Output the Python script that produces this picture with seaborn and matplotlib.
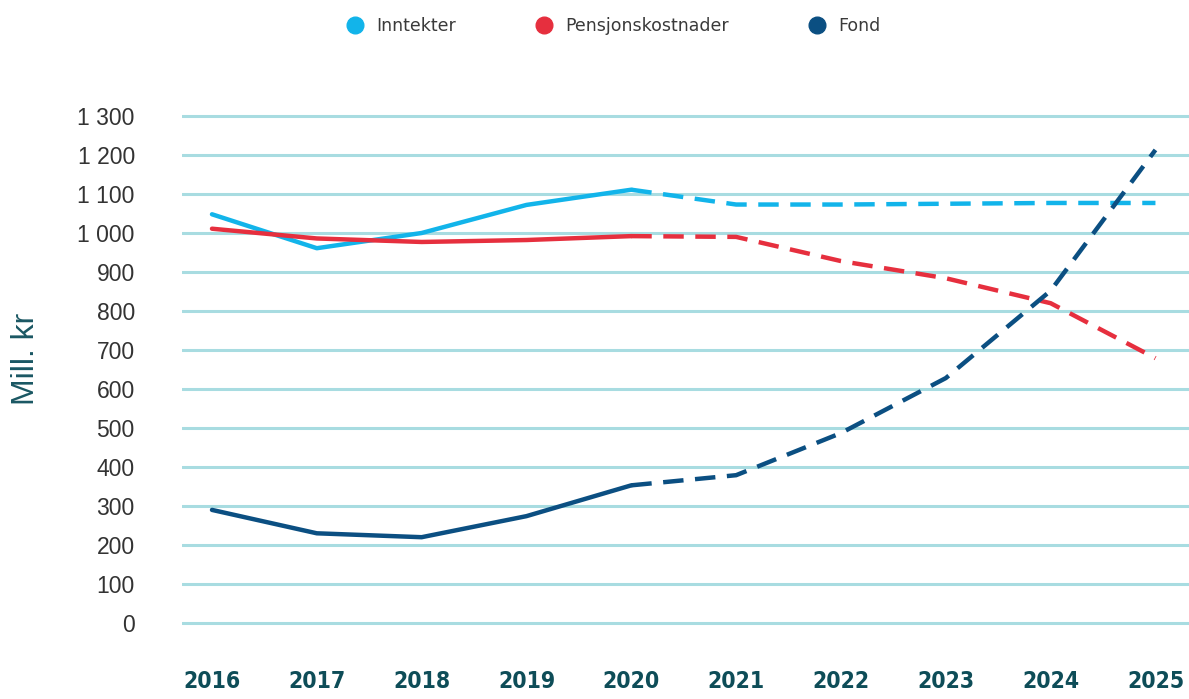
import pandas as pd
import matplotlib
matplotlib.use("Agg")
import matplotlib.pyplot as plt
from matplotlib.lines import Line2D
import seaborn as sns

# Values (Mill. kr)
years = [2016, 2017, 2018, 2019, 2020, 2021, 2022, 2023, 2024, 2025]
inntekter = [1048, 961, 1000, 1072, 1111, 1073, 1073, 1075, 1077, 1077]
pensjonskostnader = [1011, 986, 977, 982, 992, 990, 928, 884, 820, 679]
fond = [290, 230, 220, 274, 353, 379, 487, 628, 852, 1213]
last_actual = 2020

series_names = ["Inntekter", "Pensjonskostnader", "Fond"]
series_colors = ["#12b4ea", "#e62f3e", "#0b4f82"]
y_ticks = list(range(0, 1301, 100))


def build_frame():
    rows = []
    for name, values in zip(series_names, [inntekter, pensjonskostnader, fond]):
        for yr, val in zip(years, values):
            if yr <= last_actual:
                rows.append({"År": yr, "Verdi": val, "Serie": name, "Periode": "Faktisk"})
            if yr >= last_actual:
                rows.append({"År": yr, "Verdi": val, "Serie": name, "Periode": "Prognose"})
    return pd.DataFrame(rows)


def main():
    df = build_frame()
    sns.set_style("white")

    fig = plt.figure(figsize=(11.89, 6.99), dpi=100)
    W, H = 1189, 699
    y0_px, y1300_px = 623, 116
    ppu = (y0_px - y1300_px) / 1300
    pad_u = 8
    ax = fig.add_axes([182 / W, 1 - (y0_px + pad_u * ppu) / H,
                       1 - 182 / W, (y0_px - y1300_px + 2 * pad_u * ppu) / H])

    sns.lineplot(data=df, x="År", y="Verdi", hue="Serie", style="Periode",
                 hue_order=series_names, palette=series_colors,
                 dashes={"Faktisk": "", "Prognose": (4.6, 2.6)},
                 style_order=["Faktisk", "Prognose"],
                 linewidth=3.2, legend=False, ax=ax, estimator=None, sort=True)

    ax.set_xlim(2015.714, 2025.32)
    ax.set_ylim(-pad_u, 1300 + pad_u)
    ax.set_yticks(y_ticks)
    ax.set_yticklabels([f"{v:,}".replace(",", " ") for v in y_ticks],
                       fontsize=16.5, color="#333333", family="Liberation Sans")
    ax.set_xticks(years)
    ax.set_xticklabels([str(y) for y in years], fontsize=16.5, fontweight="bold",
                       color="#0e4d58", family="DejaVu Sans", fontstretch="condensed")
    ax.tick_params(axis="y", length=0, pad=34)
    ax.tick_params(axis="x", length=0, pad=31.5)

    ax.set_axisbelow(True)
    ax.yaxis.grid(True, color="#a8dce1", linewidth=2.2)
    ax.xaxis.grid(False)
    sns.despine(ax=ax, left=True, bottom=True)

    ax.set_xlabel("")
    ax.set_ylabel("Mill. kr", fontsize=23, color="#1a5763", family="Liberation Sans")
    ax.yaxis.set_label_coords(-0.140, 0.52)

    handles = [Line2D([], [], marker="o", linestyle="", markersize=12, color=c)
               for c in series_colors]
    fig.legend(handles, series_names, loc="upper center", bbox_to_anchor=(0.516, 0.998),
               ncol=3, frameon=False, fontsize=12.5, handlelength=1.0,
               handletextpad=0.7, columnspacing=4.6, labelcolor="#3a3a3a")

    fig.savefig("out.png", dpi=100)
    plt.close(fig)


if __name__ == "__main__":
    main()
